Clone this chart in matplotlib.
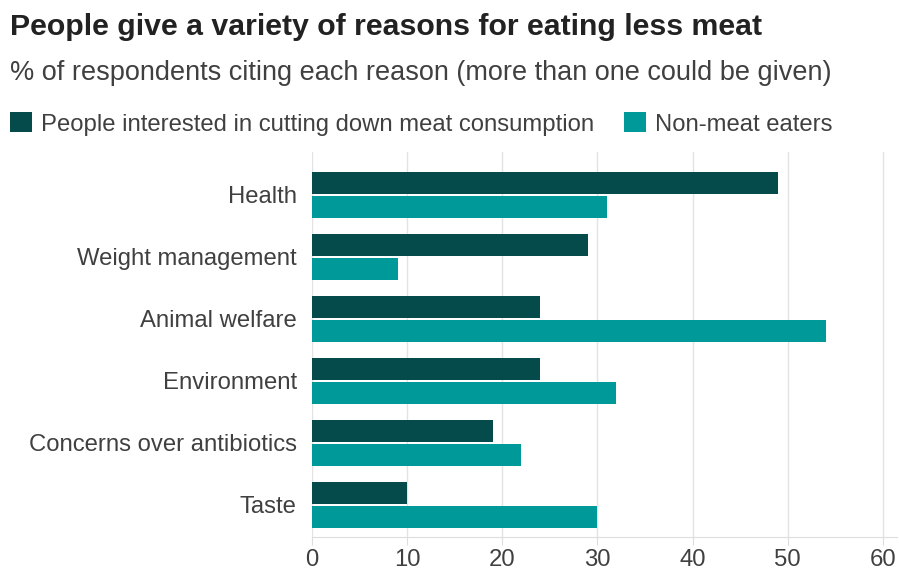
import matplotlib
matplotlib.use("Agg")
import matplotlib.pyplot as plt
import numpy as np

# data
reasons = ["Health", "Weight management", "Animal welfare", "Environment",
           "Concerns over antibiotics", "Taste"]
cutting_down = [49, 29, 24, 24, 19, 10]
non_meat = [31, 9, 54, 32, 22, 30]
series_names = ["People interested in cutting down meat consumption", "Non-meat eaters"]
x_ticks = [0, 10, 20, 30, 40, 50, 60]

dark_col = "#054b4b"
teal_col = "#009999"
text_col = "#404040"

plt.rcParams["font.family"] = ["Liberation Sans", "DejaVu Sans"]

fig = plt.figure(figsize=(8.99, 5.74), dpi=100)
ax = fig.add_axes([0.347, 0.0645, 0.651, 0.6705])

y = np.arange(len(reasons))
h = 0.355
ax.barh(y - 0.195, cutting_down, height=h, color=dark_col, label=series_names[0], zorder=3)
ax.barh(y + 0.195, non_meat, height=h, color=teal_col, label=series_names[1], zorder=3)

ax.set_xlim(0, 61.5)
ax.set_ylim(5.52, -0.69)
ax.set_yticks(y)
ax.set_yticklabels(reasons, fontsize=17.2, color=text_col)
ax.set_xticks(x_ticks)
ax.set_xticklabels([str(t) for t in x_ticks], fontsize=17.2, color=text_col)
ax.tick_params(axis="y", length=0, pad=11)
ax.tick_params(axis="x", length=6, color="#dddddd", pad=3)
ax.grid(axis="x", color="#e3e3e3", linewidth=1, zorder=0)
for s in ["top", "right", "left"]:
    ax.spines[s].set_visible(False)
ax.spines["bottom"].set_color("#dddddd")

fig.text(0.011, 0.953, "People give a variety of reasons for eating less meat",
         fontsize=21.8, fontweight="bold", color="#222222", va="center")
fig.text(0.011, 0.872, "% of respondents citing each reason (more than one could be given)",
         fontsize=19.5, color=text_col, va="center")

fig.legend(loc="center left", bbox_to_anchor=(0.0111, 0.784), ncol=2, frameon=False,
           fontsize=17.2, handlelength=0.92, handleheight=0.92, handletextpad=0.38,
           columnspacing=1.25, borderpad=0, borderaxespad=0, labelcolor=text_col)

fig.savefig("out.png", dpi=100, facecolor="white")
